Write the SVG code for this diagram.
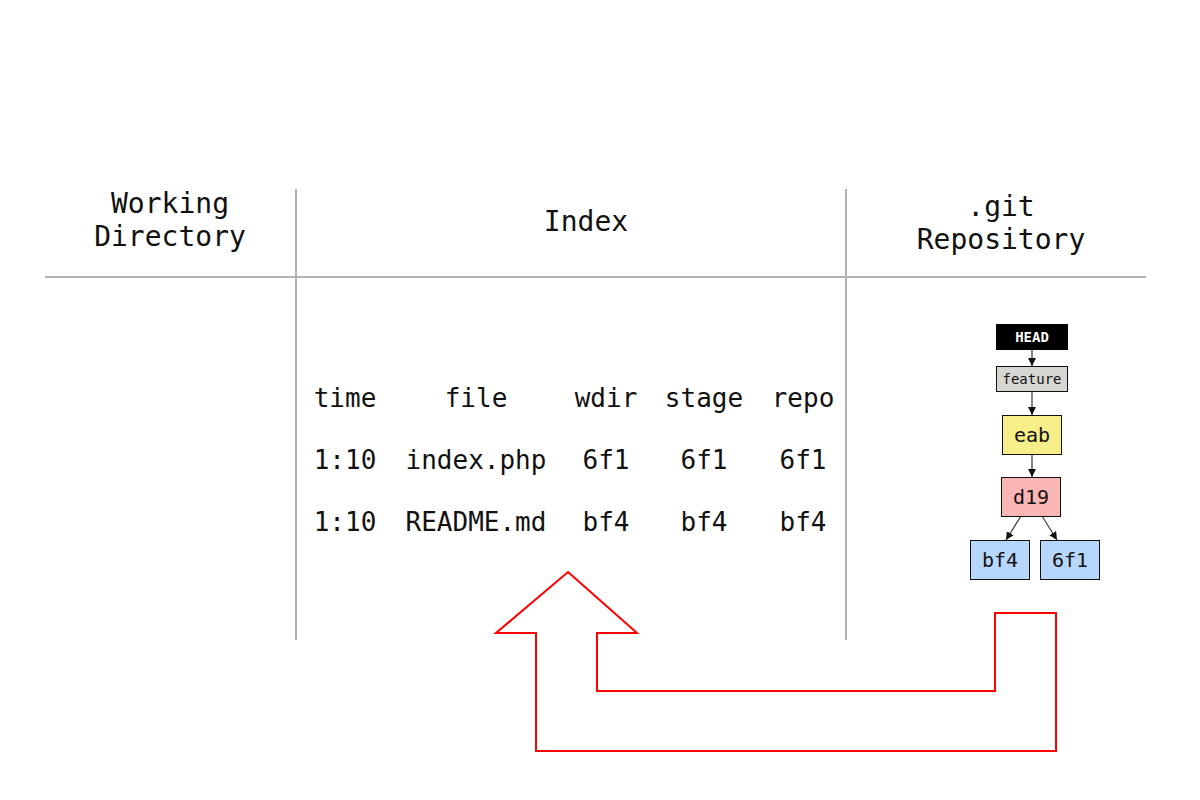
<svg xmlns="http://www.w3.org/2000/svg" width="1200" height="800" viewBox="0 0 1200 800">
<style>
text{font-family:"DejaVu Sans Mono","Liberation Mono",monospace;fill:#111}
.hd{font-size:28px;text-anchor:middle}
.tb{font-size:26px;text-anchor:middle}
.grid{stroke:#b3b3b3;stroke-width:2;fill:none}
.node{stroke:#111;stroke-width:1}
.nt{font-size:20px;text-anchor:middle}
.edge{stroke:#444;stroke-width:1.3;fill:none;marker-end:url(#ah)}
</style>
<defs>
<marker id="ah" viewBox="0 0 10 10" refX="10" refY="5" markerWidth="8" markerHeight="8" markerUnits="userSpaceOnUse" orient="auto">
<path d="M0,0 L10,5 L0,10 z" fill="#111"/>
</marker>
</defs>
<rect width="1200" height="800" fill="#fff"/>
<g id="grid">
<line class="grid" x1="45" y1="277" x2="1146" y2="277"/>
<line class="grid" x1="296" y1="189" x2="296" y2="640"/>
<line class="grid" x1="846" y1="189" x2="846" y2="640"/>
</g>
<g id="headers">
<text class="hd" x="170" y="213">Working</text>
<text class="hd" x="170" y="246">Directory</text>
<text class="hd" x="586" y="231">Index</text>
<text class="hd" x="1001" y="216">.git</text>
<text class="hd" x="1001" y="249">Repository</text>
</g>
<g id="table">
<text class="tb" x="345" y="407">time</text>
<text class="tb" x="476" y="407">file</text>
<text class="tb" x="606" y="407">wdir</text>
<text class="tb" x="704" y="407">stage</text>
<text class="tb" x="803" y="407">repo</text>
<text class="tb" x="345" y="469">1:10</text>
<text class="tb" x="476" y="469">index.php</text>
<text class="tb" x="606" y="469">6f1</text>
<text class="tb" x="704" y="469">6f1</text>
<text class="tb" x="803" y="469">6f1</text>
<text class="tb" x="345" y="531">1:10</text>
<text class="tb" x="476" y="531">README.md</text>
<text class="tb" x="606" y="531">bf4</text>
<text class="tb" x="704" y="531">bf4</text>
<text class="tb" x="803" y="531">bf4</text>
</g>
<g id="connectors">
<line class="edge" x1="1032" y1="350" x2="1032" y2="366"/>
<line class="edge" x1="1032" y1="392" x2="1032" y2="415"/>
<line class="edge" x1="1032" y1="454" x2="1032" y2="477"/>
<line class="edge" x1="1021" y1="516" x2="1006" y2="540"/>
<line class="edge" x1="1042" y1="516" x2="1057" y2="540"/>
</g>
<g id="HEAD">
<rect x="996" y="324" width="72" height="26" fill="#000"/>
<text x="1032" y="342" font-size="14" font-weight="bold" text-anchor="middle" style="fill:#fff">HEAD</text>
</g>
<g id="feature">
<rect class="node" x="996.5" y="366.5" width="71" height="25" fill="#d6d6d2"/>
<text x="1032" y="384" font-size="14" text-anchor="middle">feature</text>
</g>
<g id="eab">
<rect class="node" x="1002.5" y="415.5" width="59" height="39" fill="#f6ee88"/>
<text class="nt" x="1032" y="442">eab</text>
</g>
<g id="d19">
<rect class="node" x="1001.5" y="477.5" width="59" height="39" fill="#fab5b5"/>
<text class="nt" x="1031" y="504">d19</text>
</g>
<g id="bf4">
<rect class="node" x="970.5" y="540.5" width="59" height="39" fill="#b6d6fb"/>
<text class="nt" x="1000" y="567">bf4</text>
</g>
<g id="6f1">
<rect class="node" x="1040.5" y="540.5" width="59" height="39" fill="#b6d6fb"/>
<text class="nt" x="1070" y="567">6f1</text>
</g>
<g id="arrow">
<polygon points="568,572 637,633 597,633 597,691 995,691 995,613 1056,613 1056,751 536,751 536,633 496,633" fill="none" stroke="#ff0000" stroke-width="2"/>
</g>
</svg>
